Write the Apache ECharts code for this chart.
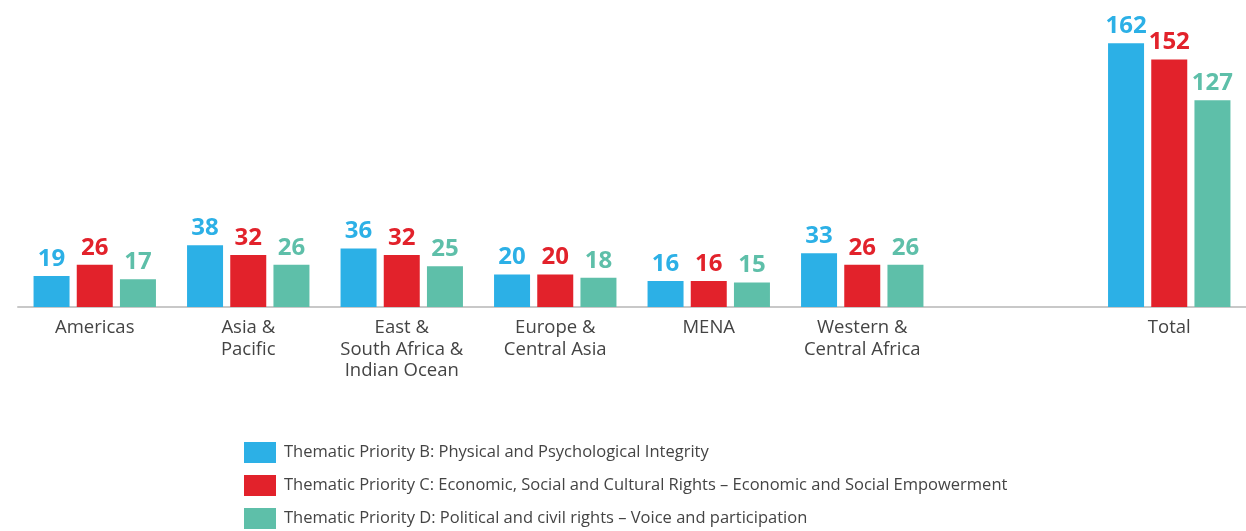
<!DOCTYPE html>
<html>
<head>
<meta charset="utf-8">
<script src="https://cdn.jsdelivr.net/npm/echarts@6/dist/echarts.min.js"></script>
<style>
	html, body { margin: 0; padding: 0; background: #fff; }
	#chart { width: 1246px; height: 531px; }
</style>
</head>
<body>
<div id="chart"></div>
<script>
	// categories (the blank one is the gap before Total)
	var regions = ['Americas', 'Asia &\nPacific', 'East &\nSouth Africa &\nIndian Ocean', 'Europe &\nCentral Asia', 'MENA', 'Western &\nCentral Africa', '', 'Total'];
	var seriesNames = [
		'Thematic Priority B: Physical and Psychological Integrity',
		'Thematic Priority C: Economic, Social and Cultural Rights – Economic and Social Empowerment',
		'Thematic Priority D: Political and civil rights – Voice and participation'
	];
	var priorityB = [19, 38, 36, 20, 16, 33, null, 162];
	var priorityC = [26, 32, 32, 20, 16, 26, null, 152];
	var priorityD = [17, 26, 25, 18, 15, 26, null, 127];
	var colors = ['#2cb0e6', '#e2222b', '#5ebfa9'];

	var font = 'Open Sans';

	function makeSeries(name, data, color){
		return {
			name: name,
			type: 'bar',
			data: data,
			barWidth: 36,
			barGap: '20%',
			itemStyle: { color: color },
			label: {
				show: true,
				position: 'top',
				distance: 5,
				color: color,
				fontFamily: font,
				fontWeight: 'bold',
				fontSize: 24
			}
		};
	}

	var myChart = echarts.init(document.getElementById('chart'));
	myChart.setOption({
		backgroundColor: '#fff',
		animation: false,
		color: colors,
		grid: { left: 18, right: 0, top: 14, bottom: 224, containLabel: false },
		legend: {
			orient: 'vertical',
			left: 244,
			top: 442,
			height: 89,
			padding: 0,
			itemWidth: 32,
			itemHeight: 21,
			itemGap: 12,
			icon: 'rect',
			textStyle: { color: '#444', fontFamily: font, fontSize: 16.5, padding: [0, 0, 0, 3] },
			data: seriesNames
		},
		xAxis: {
			type: 'category',
			data: regions,
			axisLine: { lineStyle: { color: '#c8c8c8', width: 2 } },
			axisTick: { show: false },
			axisLabel: {
				interval: 0,
				color: '#444',
				fontFamily: font,
				fontSize: 18.5,
				lineHeight: 21.5,
				margin: 10
			}
		},
		yAxis: {
			type: 'value',
			min: 0,
			max: 180,
			show: false,
			splitLine: { show: false }
		},
		series: [
			makeSeries(seriesNames[0], priorityB, colors[0]),
			makeSeries(seriesNames[1], priorityC, colors[1]),
			makeSeries(seriesNames[2], priorityD, colors[2])
		]
	});
</script>
</body>
</html>
